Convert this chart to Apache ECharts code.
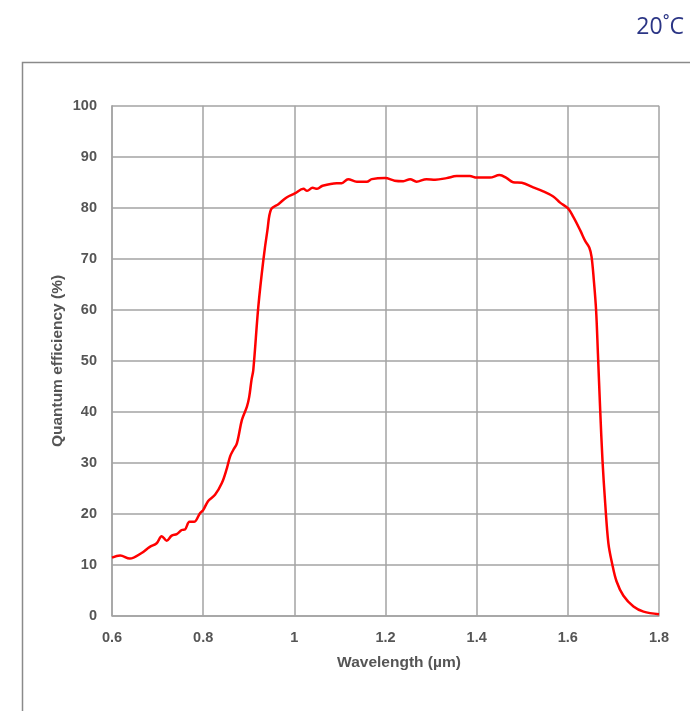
<!DOCTYPE html>
<html>
<head>
<meta charset="utf-8">
<script src="https://cdn.jsdelivr.net/npm/echarts@6/dist/echarts.min.js"></script>
<style>
  html, body { margin: 0; padding: 0; background: #fff; }
  #chart { width: 690px; height: 711px; }
</style>
</head>
<body>
<div id="chart"></div>
<script>
// Wavelength in µm
const wavelength = [
  0.600, 0.618, 0.639, 0.665, 0.683, 0.698, 0.709, 0.720, 0.731, 0.742,
  0.753, 0.760, 0.770, 0.780, 0.793, 0.800, 0.811, 0.826, 0.841, 0.852,
  0.859, 0.866, 0.874, 0.885, 0.896, 0.901, 0.906, 0.910, 0.921, 0.932,
  0.941, 0.949, 0.965, 0.983, 1.001, 1.020, 1.028, 1.040, 1.050, 1.062,
  1.093, 1.104, 1.118, 1.137, 1.159, 1.170, 1.199, 1.220, 1.239, 1.254,
  1.268, 1.290, 1.309, 1.334, 1.356, 1.385, 1.400, 1.429, 1.450, 1.466,
  1.480, 1.499, 1.524, 1.546, 1.568, 1.583, 1.600, 1.612, 1.627, 1.638,
  1.647, 1.652, 1.657, 1.662, 1.666, 1.671, 1.676, 1.682, 1.689, 1.697,
  1.707, 1.722, 1.744, 1.766, 1.800
];
// Quantum efficiency in %
const efficiency = [
  11.4, 11.8, 11.2, 12.3, 13.5, 14.2, 15.6, 14.7, 15.7, 16.0,
  16.8, 16.9, 18.4, 18.4, 20.1, 20.7, 22.5, 23.7, 26.0, 28.9,
  31.2, 32.5, 33.8, 38.4, 41.0, 42.9, 46.2, 48.2, 60.6, 69.7,
  75.6, 79.7, 80.7, 82.0, 82.8, 83.7, 83.3, 83.9, 83.7, 84.3,
  84.8, 84.8, 85.6, 85.1, 85.1, 85.6, 85.8, 85.3, 85.2, 85.6,
  85.1, 85.6, 85.5, 85.8, 86.2, 86.2, 85.9, 85.9, 86.4, 85.8,
  85.0, 84.9, 84.0, 83.2, 82.2, 81.0, 79.9, 78.2, 75.6, 73.5,
  72.2, 70.4, 65.8, 59.9, 51.4, 40.3, 30.5, 22.0, 14.2, 10.3,
  6.7, 3.9, 1.8, 0.8, 0.3
];
const xTicks = { min: 0.6, max: 1.8, step: 0.2 };
const yTicks = { min: 0, max: 100, step: 10 };
const temperatureLabel = '20˚C';

const chart = echarts.init(document.getElementById('chart'), null, { renderer: 'canvas' });
const points = wavelength.map((w, i) => [w, efficiency[i]]);

const tickFont = { color: '#555', fontSize: 14.5, fontWeight: 'bold', fontFamily: 'Liberation Sans, Arial, sans-serif' };
const gridLine = { color: '#a3a3a3', width: 1.5 };

chart.setOption({
  animation: false,
  backgroundColor: '#fff',
  grid: { left: 112, right: 31, top: 105.7, bottom: 95.3, containLabel: false },
  graphic: [
    {
      type: 'polyline',
      shape: { points: [[22.5, 711], [22.5, 62.5], [690, 62.5]] },
      style: { stroke: '#8a8a8a', lineWidth: 1.5, fill: null }
    },
    {
      type: 'text',
      right: 6,
      top: 16,
      style: {
        text: temperatureLabel,
        fill: '#2b3585',
        font: '23px "Open Sans", "Liberation Sans", sans-serif'
      }
    },
    {
      type: 'text',
      x: 399,
      y: 663,
      style: {
        text: 'Wavelength (µm)',
        fill: '#555',
        font: 'bold 15.5px "Liberation Sans", Arial, sans-serif',
        align: 'center',
        verticalAlign: 'middle'
      }
    },
    {
      type: 'text',
      x: 58,
      y: 361,
      rotation: Math.PI / 2,
      style: {
        text: 'Quantum efficiency (%)',
        fill: '#555',
        font: 'bold 15.5px "Liberation Sans", Arial, sans-serif',
        align: 'center',
        verticalAlign: 'middle'
      }
    }
  ],
  xAxis: {
    type: 'value',
    min: xTicks.min,
    max: xTicks.max,
    interval: xTicks.step,
    axisLine: { show: true, lineStyle: gridLine },
    axisTick: { show: false },
    axisLabel: Object.assign({ margin: 15, formatter: v => String(+v.toFixed(1)) }, tickFont),
    splitLine: { show: true, lineStyle: gridLine }
  },
  yAxis: {
    type: 'value',
    min: yTicks.min,
    max: yTicks.max,
    interval: yTicks.step,
    axisLine: { show: true, lineStyle: gridLine },
    axisTick: { show: false },
    axisLabel: Object.assign({ margin: 15 }, tickFont),
    splitLine: { show: true, lineStyle: gridLine }
  },
  series: [{
    type: 'line',
    data: points,
    showSymbol: false,
    smooth: 0.35,
    lineStyle: { color: '#ff0000', width: 2.5 },
    z: 5
  }]
});
</script>
</body>
</html>
